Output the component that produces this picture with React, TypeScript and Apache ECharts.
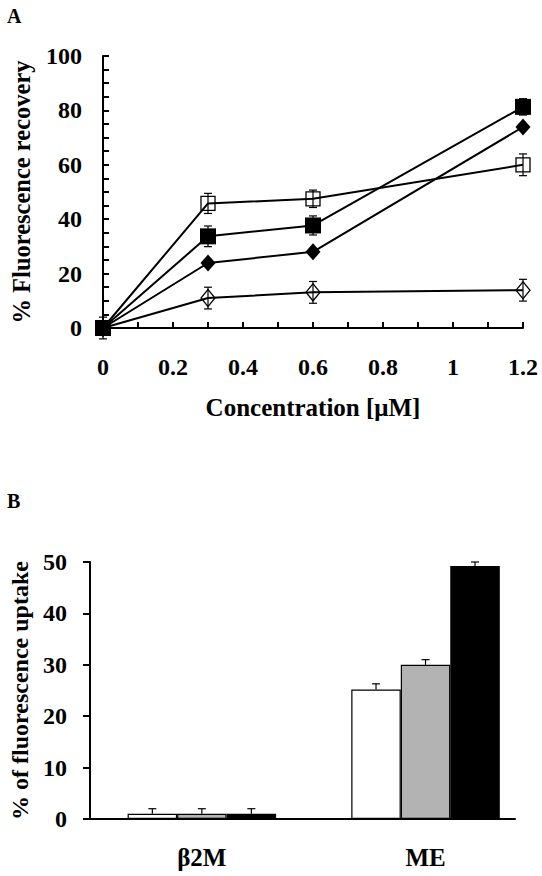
import React, { useEffect, useRef } from "react";
import * as echarts from "echarts";

// ---- Panel A data ----
const concentrations = [0, 0.3, 0.6, 1.2];
const filledSquare = [0, 33.7, 37.7, 81.3];
const filledSquareErr = [0, 3.8, 3.5, 3.0];
const filledDiamond = [0, 23.9, 28.0, 73.9];
const filledDiamondErr = [0, 1, 1, 1];
const openSquare = [0, 45.8, 47.5, 60.0];
const openSquareErr = [0, 3.7, 3.2, 4.0];
const openDiamond = [0, 11.0, 13.1, 13.9];
const openDiamondErr = [4, 4, 4, 4];

// ---- Panel B data ----
const groups = ["β2M", "ME"];
const groupPositions = [0.5, 1.5];
const whiteBars = [1.0, 25.2];
const whiteErr = [1.0, 1.1];
const grayBars = [1.0, 30.0];
const grayErr = [1.0, 1.0];
const blackBars = [1.0, 49.2];
const blackErr = [1.0, 0.8];

const FONT = "'Liberation Serif', 'Times New Roman', serif";
const BAR_W = 49.5;

export default function App() {
  const ref = useRef<HTMLDivElement>(null);

  useEffect(() => {
    if (!ref.current) return;
    const chart = echarts.init(ref.current, undefined, { renderer: "svg" });

    const pairs = (ys: number[]) => concentrations.map((x, i) => [x, ys[i]]);
    const errRowsA: number[][] = [];
    [
      [filledSquare, filledSquareErr],
      [filledDiamond, filledDiamondErr],
      [openSquare, openSquareErr],
      [openDiamond, openDiamondErr],
    ].forEach(([v, e]) => {
      concentrations.forEach((x, i) => errRowsA.push([x, v[i], e[i]]));
    });

    const errRowsB: number[][] = [];
    [
      [whiteBars, whiteErr],
      [grayBars, grayErr],
      [blackBars, blackErr],
    ].forEach(([v, e], k) => {
      groupPositions.forEach((x, i) => errRowsB.push([x, v[i], e[i], k]));
    });

    const axisText = { color: "#000", fontFamily: FONT, fontWeight: "bold" as const, fontSize: 24 };
    const lineAx = { lineStyle: { color: "#000", width: 2 } };

    const errRender = (offsetPx: boolean) => (params: any, api: any) => {
      const x = api.value(0);
      const y = api.value(1);
      const e = api.value(2);
      if (!e) return null;
      const dx = offsetPx ? (api.value(3) - 1) * BAR_W : 0;
      const top = api.coord([x, y + e]);
      const bot = api.coord([x, offsetPx ? y : y - e]);
      const cx = top[0] + dx;
      const cap = 4;
      const st = { stroke: "#000", lineWidth: 1.2 };
      const children: any[] = [
        { type: "line", shape: { x1: cx, y1: top[1], x2: cx, y2: bot[1] }, style: st },
        { type: "line", shape: { x1: cx - cap, y1: top[1], x2: cx + cap, y2: top[1] }, style: st },
      ];
      if (!offsetPx) {
        children.push({ type: "line", shape: { x1: cx - cap, y1: bot[1], x2: cx + cap, y2: bot[1] }, style: st });
      }
      return { type: "group", children };
    };

    const lineSeries = (data: number[], symbol: string, size: any, filled: boolean) => ({
      type: "line",
      xAxisIndex: 0,
      yAxisIndex: 0,
      data: pairs(data),
      symbol,
      symbolSize: size,
      showAllSymbol: true,
      z: 3,
      lineStyle: { color: "#000", width: 2 },
      itemStyle: filled
        ? { color: "#000", borderColor: "#000", borderWidth: 0 }
        : { color: "rgba(0,0,0,0)", borderColor: "#000", borderWidth: 1.3 },
      emphasis: { disabled: true },
    });

    chart.setOption({
      animation: false,
      backgroundColor: "#fff",
      graphic: [
        { type: "text", left: 7, top: 6, style: { text: "A", font: `bold 20px ${FONT}`, fill: "#000" } },
        { type: "text", left: 7, top: 491, style: { text: "B", font: `bold 20px ${FONT}`, fill: "#000" } },
      ],
      grid: [
        { left: 103, top: 56, width: 420, height: 272 },
        { left: 90, top: 562, width: 425, height: 257 },
      ],
      xAxis: [
        {
          type: "value",
          gridIndex: 0,
          min: 0,
          max: 1.2,
          interval: 0.1,
          splitLine: { show: false },
          axisLine: lineAx,
          axisTick: { inside: true, length: 6, lineStyle: { color: "#000", width: 2 } },
          axisLabel: {
            ...axisText,
            margin: 27,
            formatter: (v: number) => {
              const r = Math.round(v * 10);
              return r % 2 === 0 ? String(parseFloat((r / 10).toFixed(1))) : "";
            },
          },
          name: "Concentration [μM]",
          nameLocation: "middle",
          nameGap: 67,
          nameTextStyle: { ...axisText, fontSize: 25 },
        },
        {
          type: "value",
          gridIndex: 1,
          min: 0,
          max: 1.9,
          interval: 0.5,
          splitLine: { show: false },
          axisLine: lineAx,
          axisTick: { show: false },
          axisLabel: {
            ...axisText,
            fontSize: 25,
            margin: 26,
            showMaxLabel: false,
            formatter: (v: number) => {
              const i = groupPositions.findIndex((p) => Math.abs(p - v) < 1e-6);
              return i >= 0 ? groups[i] : "";
            },
          },
        },
      ],
      yAxis: [
        {
          type: "value",
          gridIndex: 0,
          min: 0,
          max: 100,
          interval: 5,
          splitLine: { show: false },
          axisLine: lineAx,
          axisTick: { inside: true, length: 6, lineStyle: { color: "#000", width: 2 } },
          axisLabel: {
            ...axisText,
            margin: 21,
            formatter: (v: number) => (v % 20 === 0 ? String(v) : ""),
          },
          name: "% Fluorescence recovery",
          nameLocation: "middle",
          nameGap: 69,
          nameTextStyle: { ...axisText, fontSize: 24.5 },
        },
        {
          type: "value",
          gridIndex: 1,
          min: 0,
          max: 50,
          interval: 10,
          splitLine: { show: false },
          axisLine: lineAx,
          axisTick: { inside: false, length: 7, lineStyle: { color: "#000", width: 2 } },
          axisLabel: { ...axisText, margin: 23 },
          name: "% of fluorescence uptake",
          nameLocation: "middle",
          nameGap: 58,
          nameTextStyle: { ...axisText, fontSize: 24 },
        },
      ],
      series: [
        {
          type: "custom",
          xAxisIndex: 0,
          yAxisIndex: 0,
          data: errRowsA,
          renderItem: errRender(false),
          z: 2,
          silent: true,
        },
        lineSeries(openDiamond, "diamond", [14, 17], false),
        lineSeries(openSquare, "rect", 14, false),
        lineSeries(filledDiamond, "diamond", [15, 17], true),
        lineSeries(filledSquare, "rect", 16, true),
        {
          type: "bar",
          xAxisIndex: 1,
          yAxisIndex: 1,
          data: groupPositions.map((x, i) => [x, whiteBars[i]]),
          barWidth: BAR_W,
          barGap: "0%",
          itemStyle: { color: "#fff", borderColor: "#000", borderWidth: 1.2 },
          emphasis: { disabled: true },
        },
        {
          type: "bar",
          xAxisIndex: 1,
          yAxisIndex: 1,
          data: groupPositions.map((x, i) => [x, grayBars[i]]),
          barWidth: BAR_W,
          barGap: "0%",
          itemStyle: { color: "#b3b3b3", borderColor: "#000", borderWidth: 1.2 },
          emphasis: { disabled: true },
        },
        {
          type: "bar",
          xAxisIndex: 1,
          yAxisIndex: 1,
          data: groupPositions.map((x, i) => [x, blackBars[i]]),
          barWidth: BAR_W,
          barGap: "0%",
          itemStyle: { color: "#000", borderColor: "#000", borderWidth: 1.2 },
          emphasis: { disabled: true },
        },
        {
          type: "custom",
          xAxisIndex: 1,
          yAxisIndex: 1,
          data: errRowsB,
          renderItem: errRender(true),
          z: 5,
          silent: true,
        },
      ],
    });

    return () => chart.dispose();
  }, []);

  return (
    <div
      ref={ref}
      style={{ position: "fixed", left: 0, top: 0, width: 542, height: 876, background: "#fff" }}
    />
  );
}
